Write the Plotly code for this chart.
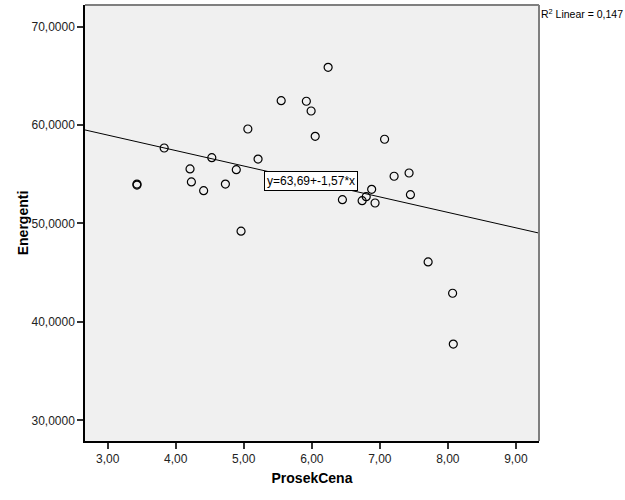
import plotly.graph_objects as go

# Data
prosek_cena = [3.43, 3.43, 3.83, 4.21, 4.23, 4.41, 4.53, 4.73, 4.89, 4.96, 5.06, 5.21,
               5.55, 5.92, 5.99, 6.05, 6.24, 6.45, 6.74, 6.80, 6.88, 6.93, 7.07, 7.21,
               7.43, 7.45, 7.71, 8.07, 8.08]
energenti = [53.9, 54.0, 57.67, 55.54, 54.22, 53.33, 56.69, 54.01, 55.47, 49.22, 59.6, 56.55,
             62.48, 62.42, 61.43, 58.86, 65.87, 52.42, 52.32, 52.72, 53.47, 52.08, 58.56, 54.8,
             55.13, 52.93, 46.09, 42.91, 37.75]

fit_intercept = 63.69
fit_slope = -1.57
r2_text = "R<sup>2</sup> Linear = 0,147"
eq_text = "y=63,69+-1,57*x"

x_tickvals = [3, 4, 5, 6, 7, 8, 9]
x_ticktext = ["3,00", "4,00", "5,00", "6,00", "7,00", "8,00", "9,00"]
y_tickvals = [30, 40, 50, 60, 70]
y_ticktext = ["30,0000", "40,0000", "50,0000", "60,0000", "70,0000"]

x_range = [2.666, 9.34]
y_range = [27.9, 72.2]

line_x = x_range
line_y = [fit_intercept + fit_slope * v for v in line_x]

fig = go.Figure()
fig.add_trace(go.Scatter(x=line_x, y=line_y, mode="lines",
                         line=dict(color="black", width=1), hoverinfo="skip"))
fig.add_trace(go.Scatter(x=prosek_cena, y=energenti, mode="markers",
                         marker=dict(symbol="circle-open", size=8, color="black",
                                     line=dict(width=1.2, color="black"))))

# equation label box
eq_x = 5.99
eq_y = fit_intercept + fit_slope * eq_x
fig.add_annotation(x=eq_x, y=eq_y, text=eq_text, showarrow=False,
                   font=dict(family="Arial, Liberation Sans", size=12, color="black"),
                   bgcolor="white", bordercolor="black", borderwidth=1, borderpad=2)

fig.add_annotation(xref="paper", yref="paper", x=1.0, y=0.98, xanchor="left", yanchor="middle",
                   xshift=0, text=r2_text, showarrow=False,
                   font=dict(family="Arial, Liberation Sans", size=10.5, color="black"))

# top/right gray frame
fig.add_shape(type="line", xref="paper", yref="paper", x0=0, x1=1, y0=1, y1=1,
              line=dict(color="#7f7f7f", width=2))
fig.add_shape(type="line", xref="paper", yref="paper", x0=1, x1=1, y0=0, y1=1,
              line=dict(color="#7f7f7f", width=2))

fig.update_layout(
    width=625, height=500,
    margin=dict(l=85, r=86, t=5, b=59),
    plot_bgcolor="#F0F0F0", paper_bgcolor="white",
    showlegend=False,
    font=dict(family="Arial, Liberation Sans", size=12, color="#222"),
    xaxis=dict(range=x_range, tickvals=x_tickvals, ticktext=x_ticktext, automargin=False,
               showgrid=False, zeroline=False, showline=True, linecolor="black", linewidth=1.5,
               ticks="outside", ticklen=6, tickwidth=2, tickcolor="#333",
               title=dict(text="<b>ProsekCena</b>", font=dict(size=14, color="black"), standoff=8)),
    yaxis=dict(range=y_range, tickvals=y_tickvals, ticktext=y_ticktext, automargin=False,
               showgrid=False, zeroline=False, showline=True, linecolor="black", linewidth=1.5,
               ticks="outside", ticklen=6, tickwidth=2, tickcolor="#333",
               title=dict(text="<b>Energenti</b>", font=dict(size=14, color="black"), standoff=0)),
)

fig.write_html("out.html", config={"displayModeBar": False},
               post_script="document.body.style.margin='0px';document.body.style.padding='0px';")
